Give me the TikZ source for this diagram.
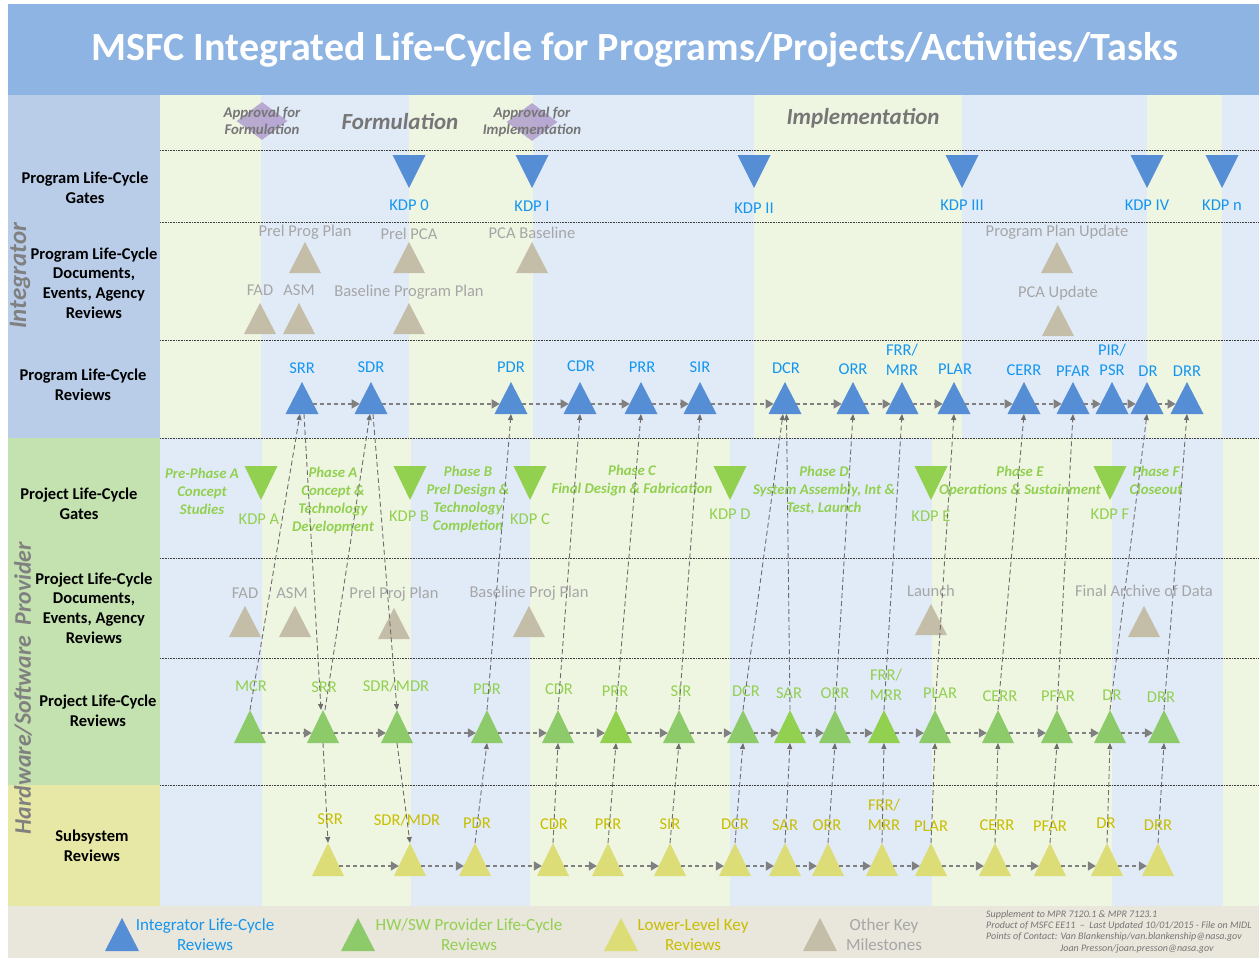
\documentclass[tikz,border=0pt]{standalone}
\usepackage{fontspec}
\setmainfont{Carlito}
\usetikzlibrary{shapes.geometric,arrows.meta}
\definecolor{titlebg}{RGB}{141,180,226}
\definecolor{intcol}{RGB}{185,205,233}
\definecolor{provcol}{RGB}{196,225,176}
\definecolor{subcol}{RGB}{231,232,165}
\definecolor{stripeB}{RGB}{225,235,247}
\definecolor{stripeG}{RGB}{238,246,226}
\definecolor{legbg}{RGB}{233,230,219}
\definecolor{triblue}{RGB}{85,142,213}
\definecolor{trigreen}{RGB}{141,203,106}
\definecolor{trigreenB}{RGB}{146,208,80}
\definecolor{triyellow}{RGB}{221,221,120}
\definecolor{trigray}{RGB}{196,189,167}
\definecolor{txtblue}{RGB}{20,150,240}
\definecolor{txtgreen}{RGB}{146,208,80}
\definecolor{txtyellow}{RGB}{200,190,0}
\definecolor{txtgray}{RGB}{166,166,166}
\definecolor{hdrgray}{RGB}{118,118,118}
\definecolor{diam}{RGB}{176,158,205}
\definecolor{conn}{RGB}{128,128,128}
\definecolor{sepline}{RGB}{60,60,60}
\begin{document}
\begin{tikzpicture}[x=1pt,y=-1pt,
  tri/.style={isosceles triangle, isosceles triangle apex angle=60, isosceles triangle stretches, minimum width=32pt, minimum height=32pt, inner sep=0pt, outer sep=0pt},
  up/.style={tri, shape border rotate=90, anchor=south},
  down/.style={tri, shape border rotate=270, anchor=north},
  lab/.style={font=\fontsize{16.5}{20}\selectfont, inner sep=0pt, align=center},
  blab/.style={lab, text=txtblue},
  glab/.style={lab, text=txtgreen},
  ylab/.style={lab, text=txtyellow},
  dlab/.style={lab, text=txtgray},
  rowlab/.style={font=\bfseries\fontsize{16.5}{19.7}\selectfont, align=center, inner sep=0pt},
  phase/.style={font=\bfseries\itshape\fontsize{14.8}{18}\selectfont, text=txtgreen, align=center, inner sep=0pt},
  hdr/.style={font=\bfseries\itshape\fontsize{23}{26}\selectfont, text=hdrgray, inner sep=0pt},
  appr/.style={font=\bfseries\itshape\fontsize{14.8}{17.5}\selectfont, text=hdrgray, align=center, inner sep=0pt},
  vert/.style={rotate=90, font=\bfseries\itshape\fontsize{25}{30}\selectfont, text=conn, inner sep=0pt},
  harr/.style={draw=conn, line width=1.6pt, dash pattern=on 4pt off 3pt, -{Triangle[length=8pt,width=9pt]}},
  varr/.style={draw=conn!85!black, line width=0.9pt, dash pattern=on 5pt off 3pt, -{Triangle[length=6pt,width=5pt]}},
  sep/.style={draw=sepline, line width=0.8pt, dash pattern=on 0.8pt off 0.8pt},
  legtxt/.style={font=\fontsize{17}{20}\selectfont, align=center, inner sep=0pt}
]
\useasboundingbox (0,0) rectangle (1259,958);
\fill[white] (0,0) rectangle (1259,958);
% title
\fill[titlebg] (8,4) rectangle (1259,95);
\node[font=\bfseries\fontsize{40}{46}\selectfont, text=white, inner sep=0pt] (title) at (635,50) {MSFC Integrated Life-Cycle for Programs/Projects/Activities/Tasks};
% left column
\fill[intcol] (8,95) rectangle (160,438);
\fill[provcol] (8,438) rectangle (160,785);
\fill[subcol] (8,785) rectangle (160,906);
\fill[legbg] (8,906) rectangle (1259,958);
% stripes
\foreach \a/\b/\c in {160/261/stripeG, 261/409/stripeB, 409/533/stripeG, 533/754/stripeB, 754/962/stripeG, 962/1147/stripeB, 1147/1222/stripeG, 1222/1259/stripeB}
  \fill[\c] (\a,95) rectangle (\b,438);
\foreach \a/\b/\c in {160/262/stripeB, 262/411/stripeG, 411/530/stripeB, 530/730/stripeG, 730/932/stripeB, 932/1112/stripeG, 1112/1223/stripeB, 1223/1259/stripeG}
  \fill[\c] (\a,438) rectangle (\b,906);
\foreach \y in {150,222,340,438,558,658,785}
  \draw[sep] (160,\y) -- (1259,\y);
% vertical group labels
\node[vert] (integ) at (20,276) {Integrator};
\node[vert, font=\bfseries\itshape\fontsize{23.8}{30}\selectfont] (hwsw) at (23,688) {Hardware/Software\ \ Provider};
% row labels
\node[rowlab] (r1) at (85,188) {Program Life-Cycle\\Gates};
\node[rowlab] (r2) at (94,283) {Program Life-Cycle\\Documents,\\Events, Agency\\Reviews};
\node[rowlab] (r3) at (83,385) {Program Life-Cycle\\Reviews};
\node[rowlab] (r4) at (79,504) {Project Life-Cycle\\Gates};
\node[rowlab] (r5) at (94,608) {Project Life-Cycle\\Documents,\\Events, Agency\\Reviews};
\node[rowlab] (r6) at (98,711) {Project Life-Cycle\\Reviews};
\node[rowlab] (r7) at (92,846) {Subsystem\\Reviews};
% header
\node[diamond, aspect=1.34, fill=diam, opacity=0.85, minimum width=51pt, minimum height=38pt, inner sep=0pt] (d1) at (262,121) {};
\node[diamond, aspect=1.34, fill=diam, opacity=0.85, minimum width=51pt, minimum height=38pt, inner sep=0pt] (d2) at (532,122) {};
\node[appr] (a1) at (262,121) {Approval for\\Formulation};
\node[appr] (a2) at (532,122) {Approval for\\Implementation};
\node[hdr] (form) at (400,122) {Formulation};
\node[hdr] (impl) at (863,118) {Implementation};
% program gates
\foreach \n/\x/\ly in {0/409/205, I/532/206, II/754/208, III/962/205, IV/1147/205, n/1222/205}{
  \node[down, fill=triblue, minimum width=33pt, minimum height=33pt] (kdp\n) at (\x,155) {};
  \node[blab] (lkdp\n) at (\x,\ly) {KDP \n};
}
% program documents
\foreach \n/\x/\b/\ly/\t in {PPP/305/273/232/Prel Prog Plan, PPCA/409/273/234/Prel PCA, PCAB/532/273/233/PCA Baseline, PPU/1057/273/232/Program Plan Update, PFAD/260/334/290/FAD, PASM/299/334/290/ASM, BPP/409/334/292/Baseline Program Plan, PCAU/1058/336/293/PCA Update}{
  \node[up, fill=trigray, minimum height=31pt] (d\n) at (\x,\b) {};
  \node[dlab] (ld\n) at (\x,\ly) {\t};
}
% program reviews
\foreach \n/\x in {SRR/302, SDR/371, PDR/511, CDR/580, PRR/641, SIR/700, DCR/785, ORR/853, FRR/902, PLAR/954, CERR/1024, PFAR/1073, PIR/1112, DR/1147, DRR/1187}
  \node[up, fill=triblue, minimum width=33pt] (pg\n) at (\x,414) {};
\foreach \n/\x/\y in {SRR/302/368, SDR/371/367, PDR/511/367, CDR/581/366, PRR/642/367, SIR/700/367, DCR/786/368, ORR/853/369, PLAR/955/369, CERR/1024/370, PFAR/1073/371, DR/1148/371, DRR/1187/371}
  \node[blab] (lpg\n) at (\x,\y) {\n};
\node[blab] (lpgFRR) at (902,360) {FRR/\\MRR};
\node[blab] (lpgPIR) at (1112,360) {PIR/\\PSR};
% project gates and phases
\foreach \n/\x/\lx/\ly in {A/261/259/519, B/410/409/516, C/530/530/519, D/730/730/514, E/931/931/516, F/1110/1110/514}{
  \node[down, fill=trigreenB, minimum width=33pt, minimum height=34pt] (kdp\n) at (\x,466) {};
  \node[glab] (lkdp\n) at (\lx,\ly) {KDP \n};
}
\node[phase] (ph0) at (202,491) {Pre-Phase A\\Concept\\Studies};
\node[phase] (phA) at (333,500) {Phase A\\Concept \&\\Technology\\Development};
\node[phase] (phB) at (468,499) {Phase B\\Prel Design \&\\Technology\\Completion};
\node[phase] (phC) at (632,481) {Phase C\\Final Design \& Fabrication};
\node[phase] (phD) at (824,490) {Phase D\\System Assembly, Int \&\\Test, Launch};
\node[phase] (phE) at (1020,481) {Phase E\\Operations \& Sustainment};
\node[phase] (phF) at (1156,480) {Phase F\\Closeout};
% project documents
\foreach \n/\x/\b/\lx/\ly/\t in {JFAD/245/637/245/593/FAD, JASM/295/637/292/593/ASM, PJP/394/639/394/594/Prel Proj Plan, BJP/529/637/529/593/Baseline Proj Plan, LAU/931/635/931/591/Launch, FAD2/1144/637/1144/591/Final Archive of Data}{
  \node[up, fill=trigray, minimum height=31pt] (d\n) at (\x,\b) {};
  \node[dlab] (ld\n) at (\lx,\ly) {\t};
}
% project reviews
\foreach \n/\x/\c in {MCR/250/trigreen, SRR/323/trigreen, SDR/397/trigreen, PDR/487/trigreen, CDR/558/trigreen, PRR/616/trigreenB, SIR/679/trigreen, DCR/743/trigreen, SAR/790/trigreenB, ORR/835/trigreen, FRR/884/trigreenB, PLAR/935/trigreen, CERR/998/trigreen, PFAR/1057/trigreen, DR/1110/trigreen, DRR/1164/trigreen}
  \node[up, fill=\c, minimum height=33pt] (pj\n) at (\x,743) {};
\foreach \n/\x/\y in {MCR/251/686, SRR/324/687, PDR/487/689, CDR/559/689, PRR/615/691, SIR/681/691, DCR/746/691, SAR/789/693, ORR/835/693, PLAR/940/693, CERR/1000/696, PFAR/1058/696, DR/1112/695, DRR/1161/697}
  \node[glab] (lpj\n) at (\x,\y) {\n};
\node[glab] (lpjSDR) at (396,686) {SDR/MDR};
\node[glab] (lpjFRR) at (886,685) {FRR/\\MRR};
% subsystem reviews
\foreach \n/\x in {SRR/328, SDR/410, PDR/475, CDR/553, PRR/608, SIR/670, DCR/735, SAR/785, ORR/828, FRR/882, PLAR/931, CERR/995, PFAR/1050, DR/1107, DRR/1158}
  \node[up, fill=triyellow, minimum height=33pt] (ss\n) at (\x,876) {};
\foreach \n/\x/\y in {SRR/330/819, PDR/477/823, CDR/554/824, PRR/608/824, SIR/670/824, DCR/735/824, SAR/785/825, ORR/827/825, PLAR/931/826, CERR/997/825, PFAR/1050/826, DR/1106/823, DRR/1158/825}
  \node[ylab] (lss\n) at (\x,\y) {\n};
\node[ylab] (lssSDR) at (407,820) {SDR/MDR};
\node[ylab] (lssFRR) at (884,815) {FRR/\\MRR};
% horizontal chains
\foreach \a/\b in {SRR/SDR, SDR/PDR, PDR/CDR, CDR/PRR, PRR/SIR, SIR/DCR, DCR/ORR, ORR/FRR, FRR/PLAR, PLAR/CERR, CERR/PFAR, PFAR/PIR, PIR/DR, DR/DRR}
  \draw[harr] (pg\a) -- (pg\b);
\foreach \a/\b in {MCR/SRR, SRR/SDR, SDR/PDR, PDR/CDR, CDR/PRR, PRR/SIR, SIR/DCR, DCR/SAR, SAR/ORR, ORR/FRR, FRR/PLAR, PLAR/CERR, CERR/PFAR, PFAR/DR, DR/DRR}
  \draw[harr] (pj\a) -- (pj\b);
\foreach \a/\b in {SRR/SDR, SDR/PDR, PDR/CDR, CDR/PRR, PRR/SIR, SIR/DCR, DCR/SAR, SAR/ORR, ORR/FRR, FRR/PLAR, PLAR/CERR, CERR/PFAR, PFAR/DR, DR/DRR}
  \draw[harr] (ss\a) -- (ss\b);
% vertical connectors: project <-> program
\draw[varr] (pjMCR.north) -- ([xshift=-2pt]pgSRR.south);
\draw[varr] ([xshift=2pt]pgSRR.south) -- ([xshift=-2pt]pjSRR.north);
\draw[varr] ([xshift=2pt]pjSRR.north) -- ([xshift=-1pt]pgSDR.south);
\draw[varr] ([xshift=2pt]pgSDR.south) -- (pjSDR.north);
\foreach \n in {PDR, CDR, PRR, SIR, ORR, FRR, PLAR, CERR, PFAR, DR, DRR}
  \draw[varr] (pj\n.north) -- (pg\n.south);
\draw[varr] (pjDCR.north) -- ([xshift=-2pt]pgDCR.south);
\draw[varr] (pjSAR.north) -- ([xshift=1.5pt]pgDCR.south);
% vertical connectors: subsystem <-> project
\draw[varr] (pjSRR.south) -- (ssSRR.north);
\draw[varr] (pjSDR.south) -- (ssSDR.north);
\foreach \n in {PDR, CDR, PRR, SIR, DCR, SAR, ORR, FRR, PLAR, CERR, PFAR, DR, DRR}
  \draw[varr] (ss\n.north) -- (pj\n.south);
% legend
\node[up, fill=triblue, minimum width=34pt, minimum height=33pt] (legB) at (122,951) {};
\node[legtxt, text=txtblue] (legBt) at (205,935) {Integrator Life-Cycle\\Reviews};
\node[up, fill=trigreen, minimum width=34pt, minimum height=33pt] (legG) at (358,951) {};
\node[legtxt, text=txtgreen] (legGt) at (469,935) {HW/SW Provider Life-Cycle\\Reviews};
\node[up, fill=triyellow, minimum width=34pt, minimum height=33pt] (legY) at (621,951) {};
\node[legtxt, text=txtyellow] (legYt) at (693,935) {Lower-Level Key\\Reviews};
\node[up, fill=trigray, minimum width=34pt, minimum height=33pt] (legO) at (820,951) {};
\node[legtxt, text=txtgray] (legOt) at (884,935) {Other Key\\Milestones};
\node[font=\itshape\fontsize{10}{11.3}\selectfont, text=hdrgray, anchor=north west, align=left, inner sep=0pt] (note) at (986,910) {Supplement to MPR 7120.1 \& MPR 7123.1\\Product of MSFC EE11\ \ -- \ Last Updated 10/01/2015 - File on MIDL\\Points of Contact: Van Blankenship/van.blankenship@nasa.gov\\\hspace*{74pt}Joan Presson/joan.presson@nasa.gov};
\end{tikzpicture}
\end{document}
